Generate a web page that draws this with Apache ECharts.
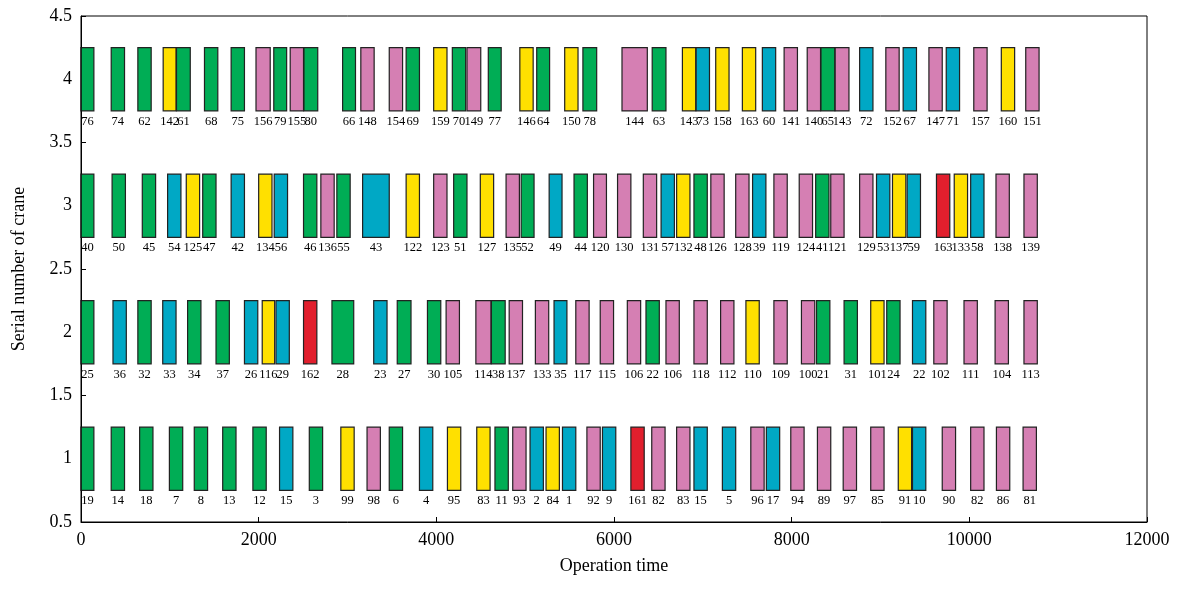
<!DOCTYPE html>
<html><head><meta charset="utf-8">
<script src="https://cdn.jsdelivr.net/npm/echarts@6/dist/echarts.min.js"></script>
<style>html,body{margin:0;padding:0;background:#fff}#c{width:1185px;height:589px}</style>
</head><body><div id="c"></div>
<script>
// Task types: G=green, P=pink, C=cyan, Y=yellow, R=red
// [start, end, task number, type]
const crane1 = [
  [0,145,'19','G'],[340,490,'14','G'],[660,810,'18','G'],[995,1145,'7','G'],[1275,1425,'8','G'],
  [1595,1745,'13','G'],[1935,2085,'12','G'],[2235,2385,'15','C'],[2570,2720,'3','G'],[2925,3075,'99','Y'],
  [3220,3370,'98','P'],[3470,3620,'6','G'],[3810,3960,'4','C'],[4125,4275,'95','Y'],[4455,4605,'83','Y'],
  [4660,4810,'11','G'],[4860,5010,'93','P'],[5055,5205,'2','C'],[5235,5385,'84','Y'],[5420,5570,'1','C'],
  [5695,5845,'92','P'],[5870,6020,'9','C'],[6190,6340,'161','R'],[6425,6575,'82','P'],[6705,6855,'83','P'],
  [6900,7050,'15','C'],[7220,7370,'5','C'],[7540,7690,'96','P'],[7715,7865,'17','C'],[7990,8140,'94','P'],
  [8290,8440,'89','P'],[8580,8730,'97','P'],[8890,9040,'85','P'],[9200,9350,'91','Y'],[9360,9510,'10','C'],
  [9695,9845,'90','P'],[10015,10165,'82','P'],[10305,10455,'86','P'],[10605,10755,'81','P']
];
const crane2 = [
  [0,145,'25','G'],[360,510,'36','C'],[640,790,'32','G'],[920,1070,'33','C'],[1200,1350,'34','G'],
  [1520,1670,'37','G'],[1840,1990,'26','C'],[2040,2180,'116','Y'],[2195,2345,'29','C'],[2505,2655,'162','R'],
  [2825,3070,'28','G'],[3295,3445,'23','C'],[3560,3715,'27','G'],[3900,4050,'30','G'],[4110,4260,'105','P'],
  [4445,4615,'114','P'],[4620,4775,'38','G'],[4820,4970,'137','P'],[5115,5265,'133','P'],[5325,5470,'35','C'],
  [5570,5720,'117','P'],[5845,5995,'115','P'],[6150,6300,'106','P'],[6360,6510,'22','G'],[6585,6735,'106','P'],
  [6900,7050,'118','P'],[7200,7350,'112','P'],[7485,7635,'110','Y'],[7800,7950,'109','P'],[8110,8260,'100','P'],
  [8280,8430,'21','G'],[8590,8740,'31','G'],[8890,9040,'101','Y'],[9070,9220,'24','G'],[9360,9510,'22','C'],
  [9600,9750,'102','P'],[9940,10090,'111','P'],[10290,10440,'104','P'],[10615,10765,'113','P']
];
const crane3 = [
  [0,145,'40','G'],[350,500,'50','G'],[690,840,'45','G'],[975,1125,'54','C'],[1185,1335,'125','Y'],
  [1370,1520,'47','G'],[1690,1840,'42','C'],[2000,2150,'134','Y'],[2175,2325,'56','C'],[2505,2655,'46','G'],
  [2700,2850,'136','P'],[2880,3030,'55','G'],[3170,3470,'43','C'],[3660,3810,'122','Y'],[3970,4120,'123','P'],
  [4195,4345,'51','G'],[4495,4645,'127','Y'],[4785,4935,'135','P'],[4955,5100,'52','G'],[5270,5415,'49','C'],
  [5550,5700,'44','G'],[5770,5915,'120','P'],[6040,6190,'130','P'],[6330,6480,'131','P'],[6530,6680,'57','C'],
  [6705,6855,'132','Y'],[6900,7050,'48','G'],[7090,7240,'126','P'],[7370,7520,'128','P'],[7560,7710,'39','C'],
  [7800,7950,'119','P'],[8085,8235,'124','P'],[8270,8420,'41','G'],[8440,8590,'121','P'],[8765,8915,'129','P'],
  [8955,9105,'53','C'],[9135,9285,'137','Y'],[9300,9450,'59','C'],[9630,9780,'163','R'],[9830,9980,'133','Y'],
  [10015,10165,'58','C'],[10300,10450,'138','P'],[10615,10765,'139','P']
];
const crane4 = [
  [0,145,'76','G'],[340,490,'74','G'],[640,790,'62','G'],[925,1070,'142','Y'],[1075,1230,'61','G'],
  [1390,1540,'68','G'],[1690,1840,'75','G'],[1970,2130,'156','P'],[2170,2315,'79','G'],[2355,2505,'155','P'],
  [2510,2665,'80','G'],[2945,3090,'66','G'],[3150,3300,'148','P'],[3470,3620,'154','P'],[3660,3810,'69','G'],
  [3970,4120,'159','Y'],[4180,4330,'70','G'],[4345,4500,'149','P'],[4585,4730,'77','G'],[4940,5090,'146','Y'],
  [5130,5275,'64','G'],[5445,5595,'150','Y'],[5650,5805,'78','G'],[6090,6375,'144','P'],[6430,6585,'63','G'],
  [6770,6920,'143','Y'],[6925,7075,'73','C'],[7145,7295,'158','Y'],[7445,7595,'163','Y'],[7670,7820,'60','C'],
  [7915,8065,'141','P'],[8175,8325,'140','P'],[8330,8485,'65','G'],[8490,8645,'143','P'],[8765,8915,'72','C'],
  [9060,9210,'152','P'],[9255,9405,'67','C'],[9545,9695,'147','P'],[9740,9890,'71','C'],[10050,10200,'157','P'],
  [10360,10510,'160','Y'],[10635,10785,'151','P']
];
const cranes = [crane1, crane2, crane3, crane4];
const xTicks = [0, 2000, 4000, 6000, 8000, 10000, 12000];
const yTicks = [0.5, 1, 1.5, 2, 2.5, 3, 3.5, 4, 4.5];
const typeColors = {G:'#00ad55', P:'#d57fb3', C:'#00a8c5', Y:'#ffe000', R:'#e11f2d'};

const rows = [];
cranes.forEach((arr, i) => arr.forEach(d => rows.push([d[0], d[1], i + 1, d[2], d[3]])));

const chart = echarts.init(document.getElementById('c'), null, {renderer:'canvas'});
const serif = '"Liberation Serif", "DejaVu Serif", serif';
chart.setOption({
  animation: false,
  grid: {left: 81, right: 38, top: 16, bottom: 67, show: false},
  xAxis: {
    type: 'value', min: xTicks[0], max: xTicks[xTicks.length - 1], interval: 2000,
    name: 'Operation time', nameLocation: 'middle', nameGap: 35,
    nameTextStyle: {fontFamily: serif, fontSize: 18, color: '#000'},
    axisLine: {show: true, onZero: false, lineStyle: {color: '#000', width: 1}},
    axisTick: {show: true, inside: true, length: 5, lineStyle: {color: '#000'}},
    axisLabel: {fontFamily: serif, fontSize: 18, color: '#000', margin: 9, formatter: v => String(v)},
    splitLine: {show: false}
  },
  yAxis: {
    type: 'value', min: yTicks[0], max: yTicks[yTicks.length - 1], interval: 0.5,
    name: 'Serial number of crane', nameLocation: 'middle', nameGap: 53,
    nameTextStyle: {fontFamily: serif, fontSize: 18, color: '#000'},
    axisLine: {show: true, lineStyle: {color: '#000', width: 1}},
    axisTick: {show: true, inside: true, length: 5, lineStyle: {color: '#000'}},
    axisLabel: {fontFamily: serif, fontSize: 18, color: '#000', margin: 9, formatter: v => String(v)},
    splitLine: {show: false}
  },
  series: [{
    type: 'custom',
    data: rows,
    encode: {x: [0, 1], y: 2},
    renderItem: function (params, api) {
      const s = api.value(0), e = api.value(1), r = api.value(2);
      const p0 = api.coord([s, r + 0.25]);
      const p1 = api.coord([e, r - 0.25]);
      const t = rows[params.dataIndex];
      return {
        type: 'group',
        children: [{
          type: 'rect',
          shape: {x: p0[0], y: p0[1], width: p1[0] - p0[0], height: p1[1] - p0[1]},
          style: {fill: typeColors[t[4]], stroke: '#222', lineWidth: 1.2}
        }, {
          type: 'text',
          style: {
            x: (p0[0] + p1[0]) / 2, y: p1[1] + 4,
            text: t[3], align: 'center', verticalAlign: 'top',
            font: '12.5px ' + serif, fill: '#000'
          }
        }]
      };
    }
  }]
});
// draw top and right border of plot box
const gp = chart.convertToPixel({gridIndex:0}, [xTicks[0], yTicks[yTicks.length - 1]]);
const gq = chart.convertToPixel({gridIndex:0}, [xTicks[xTicks.length - 1], yTicks[0]]);
chart.setOption({graphic: [{
  type: 'rect', shape: {x: gp[0], y: gp[1], width: gq[0]-gp[0], height: gq[1]-gp[1]},
  style: {fill: 'none', stroke: '#000', lineWidth: 1}, silent: true, z: 10
}]});
</script></body></html>
